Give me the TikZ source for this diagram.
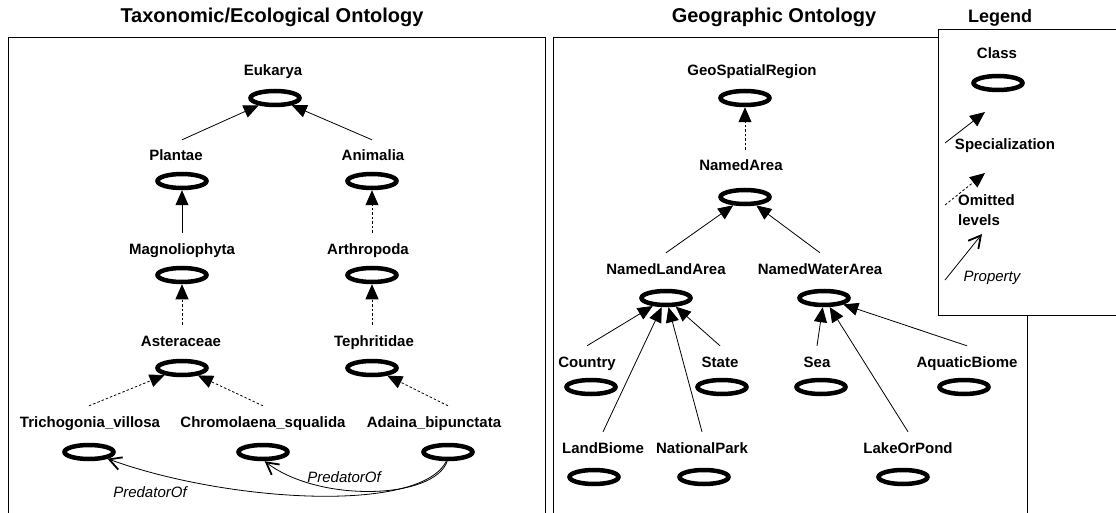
\documentclass[tikz,border=0pt]{standalone}
\usepackage{fontspec}
\setmainfont{Liberation Sans}
\usetikzlibrary{shapes.geometric,arrows.meta}

\tikzset{
  classe/.style={ellipse, draw, line width=4.5pt, minimum width=49pt,
    minimum height=14pt, inner sep=0pt},
  nome/.style={font=\bfseries\fontsize{15}{17}\selectfont, text height=11pt,
    text depth=3pt, inner xsep=0pt, inner ysep=10pt},
  voce/.style={font=\bfseries\fontsize{15}{20}\selectfont, inner sep=0pt},
  titolo/.style={font=\bfseries\fontsize{20}{22}\selectfont},
  ruolo/.style={font=\itshape\fontsize{15}{17}\selectfont, inner sep=1pt},
  spec/.style={-{Triangle[length=15pt,width=13pt]}, line width=0.8pt},
  omessi/.style={spec, dash pattern=on 2.5pt off 2pt},
  proprieta/.style={-{Straight Barb[length=12pt,width=13pt,line width=1.8pt]},
    line width=0.8pt},
}

\begin{document}
\begin{tikzpicture}[x=1pt, y=-1pt]
  \useasboundingbox (0,0) rectangle (1116,513);

  % riquadri
  \draw[line width=1pt] (8,38) rectangle (545,530);
  \draw[line width=1pt] (553,38) rectangle (1027,530);
  \draw[line width=1pt, fill=white] (938,30) rectangle (1125,315);

  % titoli
  \node[titolo] (t-tax) at (272,17) {Taxonomic/Ecological Ontology};
  \node[titolo] (t-geo) at (774,17) {Geographic Ontology};
  \node[titolo, font=\bfseries\fontsize{18}{20}\selectfont] (t-leg) at (1000,18) {Legend};

  % ontologia tassonomica
  \node[classe] (eukarya) at (275,98) {};
  \node[nome] (eukarya-l) at (273,72) {Eukarya};
  \node[classe] (plantae) at (182,181) {};
  \node[nome] (plantae-l) at (176,157) {Plantae};
  \node[classe] (animalia) at (372,181) {};
  \node[nome] (animalia-l) at (373,157) {Animalia};
  \node[classe] (magnolio) at (182,275) {};
  \node[nome] (magnolio-l) at (182,250) {Magnoliophyta};
  \node[classe] (arthro) at (372,275) {};
  \node[nome] (arthro-l) at (368,250) {Arthropoda};
  \node[classe] (aster) at (182,368) {};
  \node[nome] (aster-l) at (181,342) {Asteraceae};
  \node[classe] (tephri) at (372,368) {};
  \node[nome] (tephri-l) at (374,342) {Tephritidae};
  \node[classe] (tricho) at (89,452) {};
  \node[nome] (tricho-l) at (90,423) {Trichogonia\_villosa};
  \node[classe] (chromo) at (263,452) {};
  \node[nome] (chromo-l) at (263,423) {Chromolaena\_squalida};
  \node[classe] (adaina) at (448,452) {};
  \node[nome] (adaina-l) at (434,423) {Adaina\_bipunctata};

  \foreach \a/\b in {plantae/eukarya, animalia/eukarya, magnolio/plantae}
    \draw[spec] (\a-l.north -| \a) -- (\b);
  \foreach \a/\b in {arthro/animalia, aster/magnolio, tephri/arthro,
      tricho/aster, chromo/aster, adaina/tephri}
    \draw[omessi] (\a-l.north -| \a) -- (\b);

  % predatori
  \draw[proprieta] (adaina.-100) .. controls +(-27,53) and +(118,43) .. (tricho.-20);
  \draw[proprieta] (adaina.-95) .. controls +(-13,38) and +(55,42) .. (chromo.-80);
  \node[ruolo] (pred-a) at (344,477) {PredatorOf};
  \node[ruolo] (pred-b) at (150,492) {PredatorOf};

  % ontologia geografica
  \node[classe] (geo) at (745,98) {};
  \node[nome] (geo-l) at (752,72) {GeoSpatialRegion};
  \node[classe] (area) at (745,197) {};
  \node[nome] (area-l) at (741,167) {NamedArea};
  \node[classe] (land) at (666,298) {};
  \node[nome] (land-l) at (666,270) {NamedLandArea};
  \node[classe] (water) at (824,298) {};
  \node[nome] (water-l) at (820,270) {NamedWaterArea};
  \node[classe] (country) at (591,387) {};
  \node[nome] (country-l) at (587,363) {Country};
  \node[classe] (state) at (722,387) {};
  \node[nome] (state-l) at (720,363) {State};
  \node[classe] (sea) at (821,387) {};
  \node[nome] (sea-l) at (817,363) {Sea};
  \node[classe] (aquatic) at (964,387) {};
  \node[nome] (aquatic-l) at (967,363) {AquaticBiome};
  \node[classe] (landbiome) at (594,477) {};
  \node[nome] (landbiome-l) at (603,449) {LandBiome};
  \node[classe] (park) at (704,477) {};
  \node[nome] (park-l) at (702,449) {NationalPark};
  \node[classe] (lake) at (903,477) {};
  \node[nome] (lake-l) at (908,449) {LakeOrPond};

  \draw[omessi] (area-l.north -| area) -- (geo);
  \foreach \a/\b in {land/area, water/area, country/land, state/land,
      landbiome/land, park/land, sea/water, aquatic/water, lake/water}
    \draw[spec] (\a-l.north) -- (\b);

  % legenda
  \node[nome] (cls-l) at (997,55) {Class};
  \node[classe] (cls) at (998,83) {};
  \coordinate (s0) at (945,143);
  \coordinate (s1) at (985,112);
  \draw[spec] (s0) -- (s1);
  \node[voce] (spec-l) at (1005,146) {Specialization};
  \coordinate (o0) at (945,205);
  \coordinate (o1) at (985,173);
  \draw[omessi] (o0) -- (o1);
  \node[voce, align=left, anchor=west] (omit-l) at (958,210) {Omitted\\levels};
  \coordinate (p0) at (945,280);
  \coordinate (p1) at (982,234);
  \draw[proprieta] (p0) -- (p1);
  \node[ruolo] (prop-l) at (992,278) {Property};
\end{tikzpicture}
\end{document}
